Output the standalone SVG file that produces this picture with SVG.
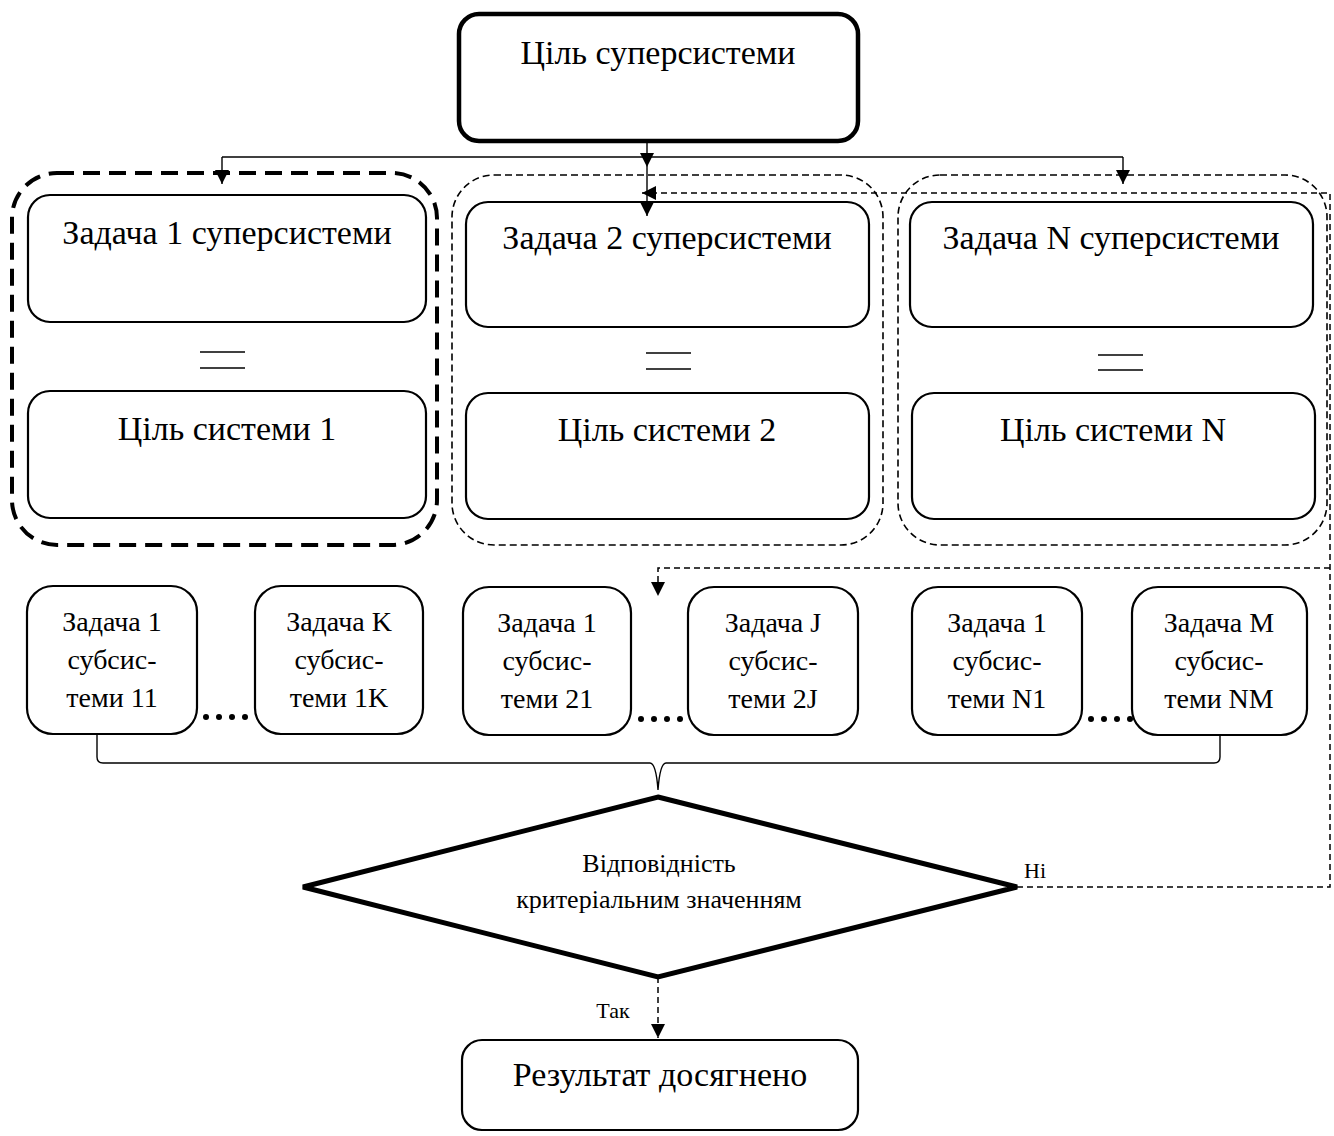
<svg xmlns="http://www.w3.org/2000/svg" width="1334" height="1136" viewBox="0 0 1334 1136">
<defs>
<marker id="arr" markerUnits="userSpaceOnUse" markerWidth="16" markerHeight="16" viewBox="0 0 16 16" refX="14" refY="8" orient="auto">
<path d="M0,1 L14,8 L0,15 Z" fill="#000"/>
</marker>
</defs>
<style>
text{font-family:"Liberation Serif","Times New Roman",serif;fill:#000;text-anchor:middle}
.big{font-size:34px}
.sub{font-size:28px}
.dia{font-size:26px}
.lbl{font-size:22px}
.box{fill:#fff;stroke:#000;stroke-width:2.2}
.grp1{fill:none;stroke:#000;stroke-width:4;stroke-dasharray:17 9}
.grp{fill:none;stroke:#000;stroke-width:1.6;stroke-dasharray:7 4}
.ln{fill:none;stroke:#000;stroke-width:1.4}
.dl{fill:none;stroke:#000;stroke-width:1.5;stroke-dasharray:6 4}
.eq{stroke:#000;stroke-width:1.4}
</style>
<rect width="1334" height="1136" fill="#fff"/>

<g id="top-goal">
<rect x="459" y="14" width="399" height="127" rx="20" fill="#fff" stroke="#000" stroke-width="4.5"/>
<text class="big" x="658" y="64">Ціль суперсистеми</text>
</g>

<g id="group-1">
<rect class="grp1" x="12" y="173" width="425" height="372" rx="45"/>
<g id="task-1">
<rect class="box" x="28" y="195" width="398" height="127" rx="22"/>
<text class="big" x="227" y="244">Задача 1 суперсистеми</text>
</g>
<line class="eq" x1="200" y1="352" x2="245" y2="352"/>
<line class="eq" x1="200" y1="368" x2="245" y2="368"/>
<g id="goal-1">
<rect class="box" x="28" y="391" width="398" height="127" rx="22"/>
<text class="big" x="227" y="440">Ціль системи 1</text>
</g>
</g>

<g id="group-2">
<rect class="grp" x="452" y="175" width="431" height="370" rx="42"/>
<g id="task-2">
<rect class="box" x="466" y="202" width="403" height="125" rx="22"/>
<text class="big" x="667" y="249">Задача 2 суперсистеми</text>
</g>
<line class="eq" x1="646" y1="353" x2="691" y2="353"/>
<line class="eq" x1="646" y1="369" x2="691" y2="369"/>
<g id="goal-2">
<rect class="box" x="466" y="393" width="403" height="126" rx="22"/>
<text class="big" x="667" y="441">Ціль системи 2</text>
</g>
</g>

<g id="group-n">
<rect class="grp" x="898" y="175" width="429" height="370" rx="42"/>
<g id="task-n">
<rect class="box" x="910" y="202" width="403" height="125" rx="22"/>
<text class="big" x="1111" y="249">Задача N суперсистеми</text>
</g>
<line class="eq" x1="1098" y1="355" x2="1143" y2="355"/>
<line class="eq" x1="1098" y1="370" x2="1143" y2="370"/>
<g id="goal-n">
<rect class="box" x="912" y="393" width="403" height="126" rx="22"/>
<text class="big" x="1113" y="441">Ціль системи N</text>
</g>
</g>

<g id="sub-11">
<rect class="box" x="27" y="586" width="170" height="148" rx="26"/>
<text class="sub" x="112" y="631">Задача 1</text>
<text class="sub" x="112" y="669">субсис-</text>
<text class="sub" x="112" y="707">теми 11</text>
</g>
<g id="sub-1k">
<rect class="box" x="255" y="586" width="168" height="148" rx="26"/>
<text class="sub" x="339" y="631">Задача K</text>
<text class="sub" x="339" y="669">субсис-</text>
<text class="sub" x="339" y="707">теми 1K</text>
</g>
<g id="sub-21">
<rect class="box" x="463" y="587" width="168" height="148" rx="26"/>
<text class="sub" x="547" y="632">Задача 1</text>
<text class="sub" x="547" y="670">субсис-</text>
<text class="sub" x="547" y="708">теми 21</text>
</g>
<g id="sub-2j">
<rect class="box" x="688" y="587" width="170" height="148" rx="26"/>
<text class="sub" x="773" y="632">Задача J</text>
<text class="sub" x="773" y="670">субсис-</text>
<text class="sub" x="773" y="708">теми 2J</text>
</g>
<g id="sub-n1">
<rect class="box" x="912" y="587" width="170" height="148" rx="26"/>
<text class="sub" x="997" y="632">Задача 1</text>
<text class="sub" x="997" y="670">субсис-</text>
<text class="sub" x="997" y="708">теми N1</text>
</g>
<g id="sub-nm">
<rect class="box" x="1132" y="587" width="175" height="148" rx="26"/>
<text class="sub" x="1219" y="632">Задача M</text>
<text class="sub" x="1219" y="670">субсис-</text>
<text class="sub" x="1219" y="708">теми NM</text>
</g>

<g id="dots" fill="#000">
<circle cx="206" cy="717" r="3"/><circle cx="219" cy="717" r="3"/><circle cx="232" cy="717" r="3"/><circle cx="245" cy="717" r="3"/>
<circle cx="641" cy="719" r="3"/><circle cx="654" cy="719" r="3"/><circle cx="667" cy="719" r="3"/><circle cx="680" cy="719" r="3"/>
<circle cx="1091" cy="719" r="3"/><circle cx="1104" cy="719" r="3"/><circle cx="1117" cy="719" r="3"/><circle cx="1130" cy="719" r="3"/>
</g>

<g id="decision">
<polygon points="658,797 1017,887 658,977 303,887" fill="#fff" stroke="#000" stroke-width="5" stroke-linejoin="miter"/>
<text class="dia" x="659" y="872">Відповідність</text>
<text class="dia" x="659" y="908">критеріальним значенням</text>
</g>

<g id="result">
<rect class="box" x="462" y="1040" width="396" height="90" rx="20"/>
<text class="big" x="660" y="1086">Результат досягнено</text>
</g>

<g id="connectors">
<line class="ln" x1="222" y1="157" x2="1123" y2="157"/>
<line class="ln" x1="647" y1="141" x2="647" y2="167" marker-end="url(#arr)"/>
<line class="ln" x1="647" y1="167" x2="647" y2="216" marker-end="url(#arr)"/>
<line class="ln" x1="222" y1="157" x2="222" y2="184" marker-end="url(#arr)"/>
<line class="ln" x1="1123" y1="157" x2="1123" y2="184" marker-end="url(#arr)"/>
<path class="ln" d="M97,734 L97,757 Q97,763 103,763 L650,763 Q656,763 658,790 Q660,763 666,763 L1214,763 Q1220,763 1220,757 L1220,735"/>
<path class="dl" d="M1017,887 L1330,887 L1330,193 L642,193" marker-end="url(#arr)"/>
<path class="dl" d="M1330,568 L658,568 L658,596" marker-end="url(#arr)"/>
<path class="dl" d="M658,977 L658,1038" marker-end="url(#arr)"/>
<text class="lbl" x="1035" y="878">Ні</text>
<text class="lbl" x="613" y="1018">Так</text>
</g>
</svg>
